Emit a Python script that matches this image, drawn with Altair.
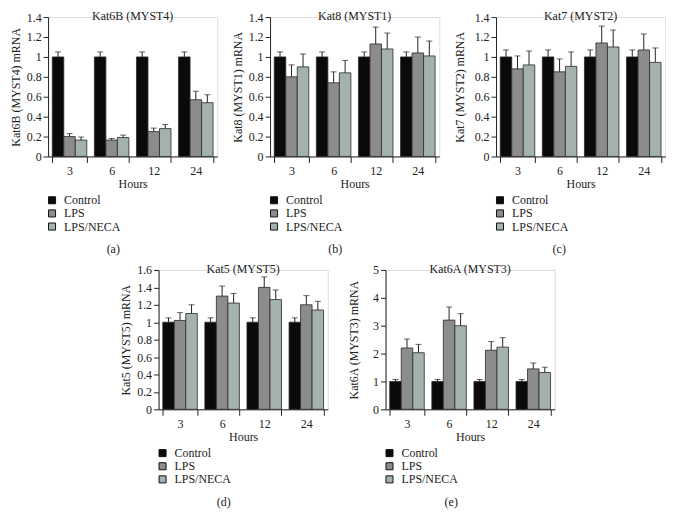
import altair as alt
import pandas as pd

hours = ["3", "6", "12", "24"]
groups = ["Control", "LPS", "LPS/NECA"]
colors = ["#0a0a0a", "#8c8c8c", "#a3b2af"]

# Panel (a) Kat6B (MYST4)
a_ctrl = [1.0, 1.0, 1.0, 1.0]
a_ctrl_err = [0.05, 0.05, 0.05, 0.05]
a_lps = [0.20, 0.165, 0.25, 0.57]
a_lps_err = [0.03, 0.015, 0.035, 0.085]
a_neca = [0.165, 0.19, 0.28, 0.54]
a_neca_err = [0.03, 0.025, 0.04, 0.08]

# Panel (b) Kat8 (MYST1)
b_ctrl = [1.0, 1.0, 1.0, 1.0]
b_ctrl_err = [0.05, 0.05, 0.05, 0.05]
b_lps = [0.80, 0.74, 1.13, 1.04]
b_lps_err = [0.12, 0.11, 0.17, 0.16]
b_neca = [0.90, 0.84, 1.08, 1.01]
b_neca_err = [0.13, 0.125, 0.16, 0.15]

# Panel (c) Kat7 (MYST2)
c_ctrl = [1.0, 1.0, 1.0, 1.0]
c_ctrl_err = [0.07, 0.07, 0.07, 0.07]
c_lps = [0.88, 0.85, 1.14, 1.07]
c_lps_err = [0.13, 0.13, 0.17, 0.16]
c_neca = [0.92, 0.905, 1.10, 0.945]
c_neca_err = [0.14, 0.145, 0.17, 0.145]

# Panel (d) Kat5 (MYST5)
d_ctrl = [1.0, 1.0, 1.0, 1.0]
d_ctrl_err = [0.05, 0.05, 0.05, 0.05]
d_lps = [1.02, 1.30, 1.40, 1.20]
d_lps_err = [0.09, 0.115, 0.12, 0.105]
d_neca = [1.10, 1.22, 1.26, 1.14]
d_neca_err = [0.10, 0.11, 0.11, 0.10]

# Panel (e) Kat6A (MYST3)
e_ctrl = [1.0, 1.0, 1.0, 1.0]
e_ctrl_err = [0.07, 0.07, 0.07, 0.07]
e_lps = [2.20, 3.20, 2.12, 1.45]
e_lps_err = [0.32, 0.47, 0.31, 0.21]
e_neca = [2.03, 3.00, 2.23, 1.32]
e_neca_err = [0.30, 0.43, 0.34, 0.19]

FONT = "Liberation Serif"
W, H = 170, 140


def make_df(ctrl, ctrl_err, lps, lps_err, neca, neca_err):
    rows = []
    for g, vals, errs in [("Control", ctrl, ctrl_err), ("LPS", lps, lps_err), ("LPS/NECA", neca, neca_err)]:
        for h, v, e in zip(hours, vals, errs):
            rows.append({"hour": h, "group": g, "value": v, "upper": v + e})
    return pd.DataFrame(rows)


def panel(df, name, ytitle, ymax, yvals, caption, ytitle_pad=4):
    x = alt.X("hour:N", sort=hours,
              scale=alt.Scale(paddingInner=0.18, paddingOuter=0.1),
              axis=alt.Axis(title="Hours", labelAngle=0, tickBand="extent",
                            domainColor="#222", tickColor="#222", tickSize=6,
                            labelFont=FONT, labelFontSize=12, labelColor="#222",
                            titleFont=FONT, titleFontSize=12, titleFontWeight="normal",
                            titleColor="#222", labelPadding=3, titlePadding=2))
    xo = alt.XOffset("group:N", sort=groups, scale=alt.Scale(paddingInner=0, paddingOuter=0))
    yscale = alt.Scale(domain=[0, ymax], nice=False, zero=True)
    yaxis = alt.Axis(title=ytitle, values=yvals, format="~g", grid=False,
                     labelOverlap=False, labelFlush=False,
                     domainColor="#222", tickColor="#222", tickSize=5,
                     labelFont=FONT, labelFontSize=12, labelColor="#222",
                     titleFont=FONT, titleFontSize=12, titleFontWeight="normal",
                     titleColor="#222", titlePadding=ytitle_pad)
    bars = alt.Chart(df).mark_bar(stroke="#2a2a2a", strokeWidth=0.8).encode(
        x=x, xOffset=xo, y=alt.Y("value:Q", scale=yscale, axis=yaxis),
        color=alt.Color("group:N", sort=groups,
                        scale=alt.Scale(domain=groups, range=colors),
                        legend=alt.Legend(orient="none", legendX=-2, legendY=H + 38,
                                          title=None, direction="vertical",
                                          symbolType="square", symbolSize=50,
                                          symbolStrokeColor="#111", symbolStrokeWidth=1,
                                          labelFont=FONT, labelFontSize=12,
                                          labelColor="#222", rowPadding=1.2,
                                          labelOffset=6)),
    )
    rules = alt.Chart(df).mark_rule(color="#222", strokeWidth=1).encode(
        x=x, xOffset=xo,
        y=alt.Y("value:Q", scale=yscale, axis=yaxis), y2="upper:Q")
    caps = alt.Chart(df).mark_tick(color="#222", thickness=1, size=6).encode(
        x=x, xOffset=xo, y=alt.Y("upper:Q", scale=yscale, axis=yaxis))
    layer = alt.layer(bars, rules, caps).properties(
        width=W, height=H,
        title=alt.TitleParams(name, font=FONT, fontSize=12, fontWeight="normal",
                              color="#222", offset=-12, anchor="middle"))
    return alt.vconcat(layer).properties(
        title=alt.TitleParams(caption, orient="bottom", font=FONT, fontSize=12,
                              fontWeight="normal", color="#222", offset=11,
                              anchor="middle", frame="bounds"))


pa = panel(make_df(a_ctrl, a_ctrl_err, a_lps, a_lps_err, a_neca, a_neca_err),
           "Kat6B (MYST4)", "Kat6B (MYST4) mRNA", 1.4, [0, 0.2, 0.4, 0.6, 0.8, 1, 1.2, 1.4], "(a)")
pb = panel(make_df(b_ctrl, b_ctrl_err, b_lps, b_lps_err, b_neca, b_neca_err),
           "Kat8 (MYST1)", "Kat8 (MYST1) mRNA", 1.4, [0, 0.2, 0.4, 0.6, 0.8, 1, 1.2, 1.4], "(b)")
pc = panel(make_df(c_ctrl, c_ctrl_err, c_lps, c_lps_err, c_neca, c_neca_err),
           "Kat7 (MYST2)", "Kat7 (MYST2) mRNA", 1.4, [0, 0.2, 0.4, 0.6, 0.8, 1, 1.2, 1.4], "(c)",
           ytitle_pad=8)
pd_ = panel(make_df(d_ctrl, d_ctrl_err, d_lps, d_lps_err, d_neca, d_neca_err),
            "Kat5 (MYST5)", "Kat5 (MYST5) mRNA", 1.6, [0, 0.2, 0.4, 0.6, 0.8, 1, 1.2, 1.4, 1.6], "(d)")
pe = panel(make_df(e_ctrl, e_ctrl_err, e_lps, e_lps_err, e_neca, e_neca_err),
           "Kat6A (MYST3)", "Kat6A (MYST3) mRNA", 5, [0, 1, 2, 3, 4, 5], "(e)",
           ytitle_pad=12)

top = alt.hconcat(pa, pb, pc, spacing=12).resolve_scale(color="independent").resolve_legend(color="independent")
bottom = alt.hconcat(pd_, pe, spacing=18).resolve_scale(color="independent").resolve_legend(color="independent")

chart = alt.vconcat(top, bottom, spacing=7, center=True).resolve_scale(
    color="independent").resolve_legend(color="independent").properties(
    padding=0).configure_view(strokeWidth=0).configure(background="white")

chart.save("out.html", embed_options={"renderer": "svg", "actions": False})
